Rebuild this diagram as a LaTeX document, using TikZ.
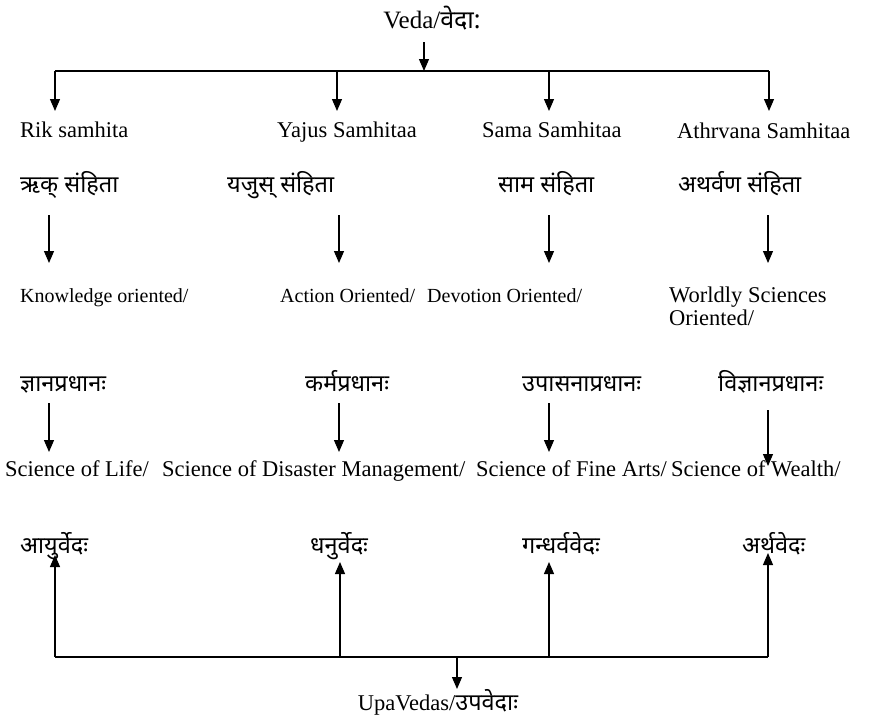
\documentclass[tikz,border=0pt]{standalone}
\usepackage{fontspec}
\setmainfont{Liberation Serif}
\newfontfamily\dev[Script=Devanagari]{Noto Sans}
\usetikzlibrary{arrows.meta,positioning}

\begin{document}
\begin{tikzpicture}[x=1pt,y=-1pt,
  eng/.style={anchor=base west,inner sep=0pt,font=\fontsize{22.5}{23}\selectfont},
  engs/.style={eng,font=\fontsize{20}{23}\selectfont},
  skt/.style={anchor=base west,inner sep=0pt,font=\dev\fontsize{23.5}{25}\selectfont},
  arr/.style={-{Triangle[length=12pt,width=10pt]},line width=1.2pt},
  ln/.style={line width=1.2pt}]
\useasboundingbox (0,0) rectangle (896,723);

% top
\node[eng,anchor=base,font=\fontsize{25}{26}\selectfont] (veda) at (432,28) {Veda/{\dev वेदा:}};
\coordinate (vedaout) at (424,42);
\coordinate (topmid) at (424,71);
\coordinate (topL) at (55,71);
\coordinate (topR) at (769,71);
\draw[arr] (vedaout) -- (topmid);
\draw[ln] (topL) -- (topR);

% samhitas
\node[eng] (rik) at (20,137) {Rik samhita};
\node[eng] (yajus) at (277,137) {Yajus Samhitaa};
\node[eng] (sama) at (482,137) {Sama Samhitaa};
\node[eng] (atharva) at (677,138) {Athrvana Samhitaa};
\node[skt] (rikd) at (20,192) {ऋक् संहिता};
\node[skt] (yajusd) at (227,192) {यजुस् संहिता};
\node[skt] (samad) at (498,192) {साम संहिता};
\node[skt] (atharvad) at (678,192) {अथर्वण संहिता};

% orientation
\node[engs] (know) at (20,302) {Knowledge oriented/};
\node[engs] (action) at (280,302) {Action Oriented/};
\node[engs] (devot) at (427,302) {Devotion Oriented/};
\node[eng,align=left] (world) at (669,325) {Worldly Sciences\\Oriented/};
\node[skt] (knowd) at (20,391) {ज्ञानप्रधानः};
\node[skt] (actiond) at (305,391) {कर्मप्रधानः};
\node[skt] (devotd) at (522,391) {उपासनाप्रधानः};
\node[skt] (worldd) at (718,391) {विज्ञानप्रधानः};

% upavedas
\node[eng] (life) at (5,476) {Science of Life/};
\node[eng] (disaster) at (162,476) {Science of Disaster Management/};
\node[eng] (arts) at (476,476) {Science of Fine Arts/};
\node[eng] (wealth) at (671,476) {Science of Wealth/};
\node[skt] (lifed) at (20,553) {आयुर्वेदः};
\node[skt] (disasterd) at (310,553) {धनुर्वेदः};
\node[skt] (artsd) at (522,553) {गन्धर्ववेदः};
\node[skt] (wealthd) at (742,553) {अर्थवेदः};

\node[eng,anchor=base] (upa) at (438,710) {UpaVedas/{\dev\fontsize{23.5}{25}\selectfont उपवेदाः}};

% arrows down
\foreach \n/\x in {1/55,2/337,3/549,4/769}{
  \coordinate (a\n) at (\x,71);
  \coordinate (b\n) at (\x,111);
  \draw[arr] (a\n) -- (b\n);
}
\foreach \n/\x in {1/49,2/339,3/549,4/768}{
  \coordinate (c\n) at (\x,215);
  \coordinate (d\n) at (\x,263);
  \draw[arr] (c\n) -- (d\n);
}
\foreach \n/\x/\y/\z in {1/49/403/452,2/339/403/452,3/549/403/452,4/768/410/466}{
  \coordinate (e\n) at (\x,\y);
  \coordinate (f\n) at (\x,\z);
  \draw[arr] (e\n) -- (f\n);
}

% arrows up
\coordinate (botL) at (55,657);
\coordinate (botR) at (768,657);
\draw[ln] (botL) -- (botR);
\foreach \n/\x/\y in {1/55/555,2/340/562,3/549/562,4/768/553}{
  \coordinate (g\n) at (\x,657);
  \coordinate (h\n) at (\x,\y);
  \draw[arr] (g\n) -- (h\n);
}
\coordinate (botmid) at (457,657);
\coordinate (upain) at (457,689);
\draw[arr] (botmid) -- (upain);
\end{tikzpicture}
\end{document}
